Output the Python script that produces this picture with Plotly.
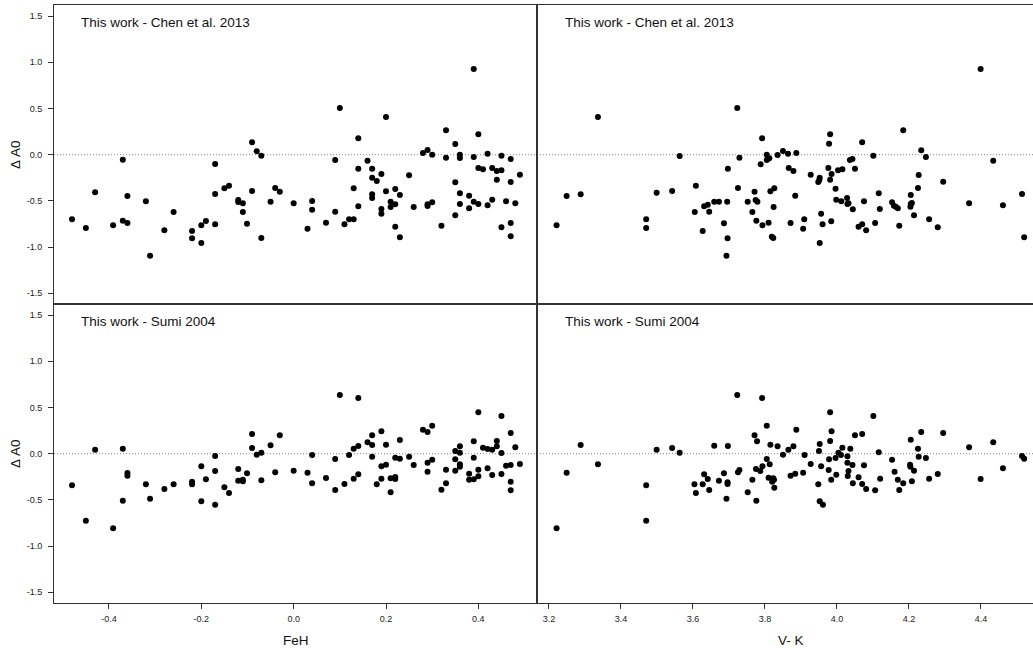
import plotly.graph_objects as go

# ---------------- data ----------------
# Top-left: This work - Chen et al. 2013, versus FeH
chen_feh_x = [-0.480, -0.450, -0.430, -0.391, -0.370, -0.370, -0.360, -0.360, -0.320, -0.311,
              -0.280, -0.260, -0.220, -0.220, -0.200, -0.200, -0.190, -0.170, -0.170, -0.170,
              -0.150, -0.140, -0.120, -0.120, -0.110, -0.110, -0.101, -0.090, -0.090, -0.080,
              -0.070, -0.070, -0.050, -0.040, -0.030, 0.000,
              0.030, 0.040, 0.040, 0.070, 0.090, 0.090, 0.100, 0.110, 0.120, 0.130,
              0.130, 0.140, 0.140, 0.140, 0.160, 0.170, 0.170, 0.170, 0.170, 0.180,
              0.190, 0.190, 0.190, 0.200, 0.200, 0.210, 0.210, 0.220, 0.220, 0.220,
              0.230, 0.230, 0.250, 0.260, 0.280, 0.290, 0.290, 0.290, 0.300, 0.300,
              0.320, 0.330, 0.330, 0.350, 0.350, 0.350, 0.360, 0.360, 0.360, 0.360,
              0.380, 0.380, 0.390, 0.390, 0.390, 0.400, 0.400, 0.400, 0.410, 0.420,
              0.420, 0.430, 0.430, 0.440, 0.440, 0.450, 0.450, 0.450, 0.460, 0.470,
              0.470, 0.470, 0.470, 0.480, 0.490]
chen_feh_y = [-0.699, -0.793, -0.407, -0.764, -0.054, -0.714, -0.447, -0.739, -0.504, -1.093,
              -0.818, -0.620, -0.826, -0.905, -0.764, -0.956, -0.718, -0.101, -0.425, -0.753,
              -0.364, -0.335, -0.490, -0.512, -0.526, -0.620, -0.747, 0.134, -0.393, 0.037,
              -0.011, -0.902, -0.509, -0.360, -0.400, -0.526,
              -0.801, -0.501, -0.595, -0.736, -0.057, -0.617, 0.505, -0.753, -0.699, -0.699,
              -0.364, 0.177, -0.152, -0.558, -0.065, -0.152, -0.249, -0.429, -0.469, -0.285,
              -0.209, -0.588, -0.639, 0.408, -0.396, -0.509, -0.566, -0.371, -0.537, -0.779,
              -0.436, -0.894, -0.223, -0.566, 0.018, 0.051, -0.537, -0.555, 0.000, -0.515,
              -0.768, 0.264, -0.032, 0.116, -0.299, -0.656, 0.000, -0.036, -0.418, -0.534,
              -0.444, -0.580, 0.927, -0.025, -0.509, 0.221, -0.144, -0.534, -0.158, 0.011,
              -0.548, -0.144, -0.487, -0.176, -0.271, -0.011, -0.169, -0.786, -0.504, -0.047,
              -0.295, -0.739, -0.883, -0.526, -0.216]

# Top-right: This work - Chen et al. 2013, versus V-K
chen_vk_x = [3.221, 3.249, 3.288, 3.336, 3.470, 3.470, 3.499, 3.542, 3.563, 3.605,
             3.608, 3.627, 3.631, 3.641, 3.645, 3.659, 3.672, 3.686, 3.693, 3.695,
             3.696, 3.697, 3.723, 3.725, 3.729, 3.752, 3.765, 3.771, 3.774, 3.776,
             3.779, 3.788, 3.792, 3.793, 3.805, 3.805, 3.812, 3.810, 3.815, 3.819,
             3.823, 3.824, 3.826, 3.835, 3.850,
             3.864, 3.866, 3.871, 3.879, 3.884, 3.887, 3.906, 3.909, 3.927, 3.948,
             3.951, 3.952, 3.952, 3.956, 3.960, 3.976, 3.978, 3.981, 3.981, 3.984,
             3.985, 3.996, 3.998, 4.003, 4.012, 4.015, 4.028, 4.029, 4.032, 4.036,
             4.043, 4.044, 4.050, 4.060, 4.070, 4.070, 4.075, 4.081, 4.101, 4.106,
             4.116, 4.119, 4.153, 4.158, 4.163, 4.169, 4.173, 4.184, 4.205, 4.205,
             4.204, 4.208, 4.214, 4.225, 4.227, 4.234, 4.247, 4.256, 4.280, 4.295,
             4.367, 4.399, 4.434, 4.461, 4.514, 4.520]
chen_vk_y = [-0.764, -0.447, -0.429, 0.408, -0.699, -0.793, -0.411, -0.393, -0.014, -0.620,
             -0.335, -0.826, -0.558, -0.541, -0.617, -0.509, -0.509, -0.742, -1.093, -0.509,
             -0.905, -0.152, 0.505, -0.360, -0.032, -0.509, -0.620, -0.400, -0.490, -0.714,
             -0.509, -0.104, 0.177, -0.764, 0.000, -0.057, -0.039, -0.736, -0.396, -0.887,
             -0.902, -0.566, -0.364, -0.003, 0.040,
             0.011, -0.144, -0.739, -0.176, -0.444, 0.018, -0.801, -0.699, -0.216, -0.295,
             -0.274, -0.249, -0.956, -0.639, -0.753, -0.144, 0.119, 0.221, -0.271, -0.721,
             -0.209, -0.368, -0.487, -0.169, -0.504, -0.158, -0.469, -0.534, -0.526, -0.057,
             -0.047, -0.591, -0.152, -0.779, 0.134, -0.753, -0.504, -0.818, -0.011, -0.739,
             -0.418, -0.588, -0.515, -0.552, -0.563, -0.580, -0.768, 0.264, -0.436, -0.534,
             -0.563, -0.523, -0.656, -0.360, -0.220, 0.048, -0.025, -0.699, -0.786, -0.292,
             -0.526, 0.927, -0.065, -0.548, -0.425, -0.894]

# Bottom-left: This work - Sumi 2004, versus FeH
sumi_feh_x = [-0.480, -0.450, -0.430, -0.391, -0.370, -0.370, -0.360, -0.360, -0.320, -0.311,
              -0.280, -0.260, -0.220, -0.220, -0.200, -0.200, -0.190, -0.170, -0.170, -0.170,
              -0.150, -0.140, -0.120, -0.120, -0.110, -0.110, -0.101, -0.090, -0.090, -0.080,
              -0.070, -0.070, -0.050, -0.040, -0.030, 0.000,
              0.030, 0.040, 0.040, 0.070, 0.090, 0.090, 0.100, 0.110, 0.120, 0.130,
              0.130, 0.140, 0.140, 0.140, 0.160, 0.170, 0.170, 0.170, 0.180, 0.190,
              0.190, 0.190, 0.200, 0.200, 0.210, 0.210, 0.220, 0.220, 0.220, 0.230,
              0.230, 0.250, 0.260, 0.280, 0.290, 0.290, 0.290, 0.300, 0.300, 0.320,
              0.330, 0.330, 0.350, 0.350, 0.350, 0.360, 0.360, 0.360, 0.360, 0.380,
              0.380, 0.390, 0.390, 0.390, 0.400, 0.400, 0.400, 0.410, 0.420, 0.420,
              0.430, 0.430, 0.440, 0.440, 0.450, 0.450, 0.450, 0.460, 0.470, 0.470,
              0.470, 0.470, 0.480, 0.490]
sumi_feh_y = [-0.342, -0.725, 0.043, -0.807, 0.054, -0.509, -0.209, -0.238, -0.331, -0.487,
              -0.382, -0.331, -0.303, -0.331, -0.136, -0.515, -0.277, -0.025, -0.187, -0.552,
              -0.364, -0.425, -0.166, -0.292, -0.281, -0.299, -0.212, 0.213, 0.062, -0.011,
              0.011, -0.288, 0.091, -0.201, 0.199, -0.184,
              -0.206, -0.014, -0.320, -0.263, -0.057, -0.393, 0.635, -0.328, -0.014, 0.054,
              -0.271, 0.603, 0.083, -0.223, 0.123, 0.199, 0.094, -0.032, -0.331, 0.242,
              -0.136, -0.271, 0.097, -0.119, -0.418, -0.266, -0.043, -0.252, -0.274, 0.148,
              -0.054, -0.032, -0.122, 0.260, 0.235, -0.097, -0.195, 0.303, -0.065, -0.390,
              -0.173, -0.320, 0.029, -0.061, -0.184, 0.080, 0.011, -0.115, -0.141, -0.216,
              -0.281, 0.134, -0.043, -0.277, 0.448, -0.173, -0.245, 0.065, 0.051, -0.158,
              0.043, -0.231, 0.137, 0.080, 0.408, 0.008, -0.220, -0.130, 0.224, -0.122,
              -0.303, -0.396, 0.069, -0.111]

# Bottom-right: This work - Sumi 2004, versus V-K
sumi_vk_x = [3.221, 3.249, 3.288, 3.336, 3.470, 3.470, 3.499, 3.542, 3.563, 3.604,
             3.608, 3.627, 3.631, 3.641, 3.645, 3.659, 3.672, 3.686, 3.693, 3.696,
             3.696, 3.697, 3.723, 3.725, 3.729, 3.752, 3.765, 3.771, 3.775, 3.776,
             3.778, 3.787, 3.792, 3.793, 3.805, 3.805, 3.810, 3.813, 3.815, 3.820,
             3.823, 3.826, 3.825, 3.835, 3.850,
             3.865, 3.871, 3.879, 3.884, 3.887, 3.906, 3.910, 3.927, 3.948, 3.950,
             3.952, 3.952, 3.956, 3.961, 3.977, 3.978, 3.981, 3.981, 3.984, 3.985,
             3.996, 3.998, 4.004, 4.011, 4.015, 4.029, 4.029, 4.030, 4.032, 4.037,
             4.043, 4.044, 4.050, 4.060, 4.070, 4.070, 4.075, 4.081, 4.101, 4.106,
             4.116, 4.120, 4.153, 4.160, 4.169, 4.173, 4.184, 4.203, 4.204, 4.205,
             4.208, 4.214, 4.225, 4.227, 4.234, 4.247, 4.256, 4.280, 4.295, 4.367,
             4.399, 4.434, 4.461, 4.514, 4.520]
sumi_vk_y = [-0.807, -0.206, 0.094, -0.115, -0.342, -0.725, 0.043, 0.062, 0.011, -0.331,
             -0.425, -0.331, -0.223, -0.274, -0.393, 0.087, -0.292, -0.212, -0.487, -0.310,
             -0.328, 0.083, 0.635, -0.201, -0.176, -0.418, -0.281, 0.199, -0.166, -0.509,
             0.134, -0.187, 0.603, -0.136, 0.303, -0.057, -0.260, -0.115, 0.097, -0.303,
             -0.266, -0.368, -0.281, 0.080, -0.011,
             0.043, -0.238, 0.080, -0.216, 0.260, -0.206, -0.014, -0.111, -0.331, 0.029,
             0.105, -0.515, -0.136, -0.552, -0.176, -0.061, 0.137, 0.448, -0.281, 0.242,
             -0.047, -0.227, 0.011, -0.014, 0.065, -0.028, -0.097, -0.241, -0.187, 0.054,
             -0.122, -0.320, 0.199, -0.255, 0.213, -0.328, -0.126, -0.382, 0.408, -0.396,
             0.015, -0.271, -0.065, -0.195, -0.281, -0.393, -0.320, -0.119, -0.141, 0.152,
             -0.299, -0.184, 0.054, -0.032, 0.235, -0.047, -0.271, -0.220, 0.224, 0.069,
             -0.274, 0.123, -0.158, -0.025, -0.054]

panel_labels = ["This work - Chen et al. 2013", "This work - Chen et al. 2013",
                "This work - Sumi 2004", "This work - Sumi 2004"]
x_titles = ["FeH", "V- K"]
y_title = "\u0394 A0"
feh_ticks = [-0.4, -0.2, 0.0, 0.2, 0.4]
vk_ticks = [3.2, 3.4, 3.6, 3.8, 4.0, 4.2, 4.4]
y_ticks = [-1.5, -1.0, -0.5, 0.0, 0.5, 1.0, 1.5]

# ---------------- figure ----------------
W, H = 1033, 648
L, R, T, B = 54, 0, 5, 45
pw, ph = W - L - R, H - T - B
xsplit = (537 - L) / pw

FONT = "Liberation Sans, Arial, Helvetica, sans-serif"
FRAME = "#333333"

fig = go.Figure()
panels = [
    (chen_feh_x, chen_feh_y, "x", "y"),
    (chen_vk_x, chen_vk_y, "x2", "y2"),
    (sumi_feh_x, sumi_feh_y, "x3", "y3"),
    (sumi_vk_x, sumi_vk_y, "x4", "y4"),
]
for xs, ys, xa, ya in panels:
    fig.add_trace(go.Scatter(x=xs, y=ys, xaxis=xa, yaxis=ya, mode="markers",
                             marker=dict(color="black", size=6, line=dict(width=0)),
                             showlegend=False, hoverinfo="x+y"))

feh_range = [-0.519, 0.527]
vk_range = [3.1667, 4.5445]
y_range = [-1.616, 1.620]

common_x = dict(showgrid=False, zeroline=False, showline=True, linecolor=FRAME,
                linewidth=1, mirror=True, fixedrange=True)
common_y = dict(showgrid=False, zeroline=False, showline=True, linecolor=FRAME,
                linewidth=1, mirror=True, range=y_range, fixedrange=True)
tickfont = dict(family=FONT, size=9, color="#222222")

fig.update_layout(
    width=W, height=H,
    margin=dict(l=L, r=R, t=T, b=B, pad=0),
    plot_bgcolor="white", paper_bgcolor="white",
    font=dict(family=FONT, color="#222222"),
    xaxis=dict(common_x, domain=[0, xsplit], range=feh_range, anchor="y",
               showticklabels=False, ticks=""),
    xaxis2=dict(common_x, domain=[xsplit, 1], range=vk_range, anchor="y2",
                showticklabels=False, ticks=""),
    xaxis3=dict(common_x, domain=[0, xsplit], range=feh_range, anchor="y3",
                tickvals=feh_ticks, ticktext=[f"{v:.1f}" for v in feh_ticks],
                ticks="outside", ticklen=5, tickcolor=FRAME, tickfont=tickfont,
                ticklabelstandoff=2),
    xaxis4=dict(common_x, domain=[xsplit, 1], range=vk_range, anchor="y4",
                tickvals=vk_ticks, ticktext=[f"{v:.1f}" for v in vk_ticks],
                ticks="outside", ticklen=5, tickcolor=FRAME, tickfont=tickfont,
                ticklabelstandoff=2),
    yaxis=dict(common_y, domain=[0.5, 1], anchor="x",
               tickvals=y_ticks, ticktext=[f"{v:.1f}" for v in y_ticks],
               ticks="outside", ticklen=5, tickcolor=FRAME, tickfont=tickfont,
               ticklabelstandoff=4),
    yaxis2=dict(common_y, domain=[0.5, 1], anchor="x2", showticklabels=False, ticks=""),
    yaxis3=dict(common_y, domain=[0, 0.5], anchor="x3",
                tickvals=y_ticks, ticktext=[f"{v:.1f}" for v in y_ticks],
                ticks="outside", ticklen=5, tickcolor=FRAME, tickfont=tickfont,
                ticklabelstandoff=4),
    yaxis4=dict(common_y, domain=[0, 0.5], anchor="x4", showticklabels=False, ticks=""),
)

# dotted zero lines
for xa, ya in [("x", "y"), ("x2", "y2"), ("x3", "y3"), ("x4", "y4")]:
    fig.add_shape(type="line", xref=f"{xa} domain", yref=ya, x0=0, x1=1, y0=0, y1=0,
                  line=dict(color="#888888", width=1, dash="1px,2px"), layer="below")

def px_x(p):
    return (p - L) / pw

def px_y(p):
    return (H - B - p) / ph

ann = []
label_pos = [(79, 22.3), (563, 22.3), (79, 321.5), (563, 321.5)]
for text, (lx, ly) in zip(panel_labels, label_pos):
    ann.append(dict(text=text, x=px_x(lx), y=px_y(ly), xref="paper", yref="paper",
                    xanchor="left", yanchor="middle", showarrow=False,
                    font=dict(family=FONT, size=13.5, color="#111111")))
for text, cx in zip(x_titles, [296, 791]):
    ann.append(dict(text=text, x=px_x(cx), y=px_y(640), xref="paper", yref="paper",
                    xanchor="center", yanchor="middle", showarrow=False,
                    font=dict(family=FONT, size=13.5, color="#111111")))
for cy in [155, 454]:
    ann.append(dict(text=y_title, x=px_x(15), y=px_y(cy), xref="paper", yref="paper",
                    xanchor="center", yanchor="middle", showarrow=False, textangle=-90,
                    font=dict(family=FONT, size=13.5, color="#111111")))
fig.update_layout(annotations=ann)

fig.write_html("out.html", config={"displayModeBar": False},
               post_script="document.body.style.margin='0';document.body.style.padding='0';")
